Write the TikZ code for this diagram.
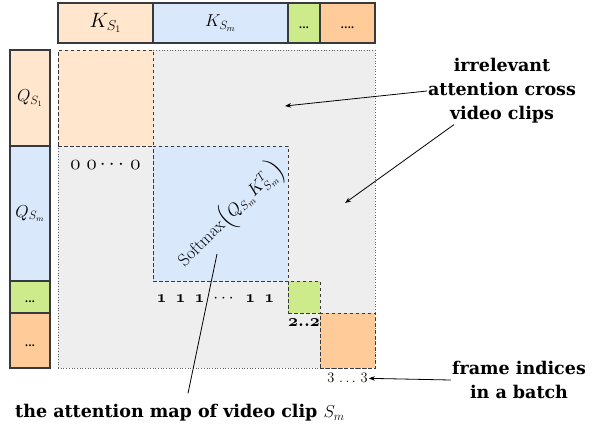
\documentclass[tikz,border=0pt]{standalone}
\usepackage{amsmath}
\usepackage{fontspec}
\usetikzlibrary{arrows.meta,positioning,calc}
\newfontfamily\notefont{DejaVu Serif}
\definecolor{PeachLight}{HTML}{FFE6CC}
\definecolor{SkyLight}{HTML}{DAE8FC}
\definecolor{LimeMid}{HTML}{CDEB8B}
\definecolor{PeachMid}{HTML}{FFCC99}
\definecolor{MapGray}{HTML}{EEEEEE}
\definecolor{EdgeDark}{HTML}{36393D}
\newcommand{\lowdots}[1]{\smash{\raisebox{-5.5pt}{#1}}}
% old-style figures taken from the math italic font
\newcommand{\osd}[1]{{\fontencoding{OML}\fontfamily{cmm}\fontseries{m}\fontshape{it}\selectfont #1}}
\newcommand{\osdb}[1]{{\fontencoding{OML}\fontfamily{cmm}\fontseries{b}\fontshape{it}\selectfont #1}}

\begin{document}
\begin{tikzpicture}[x=1pt,y=-1pt,
    token/.style={draw=EdgeDark,line width=1.1pt,inner sep=0pt},
    clipblock/.style={draw=EdgeDark,line width=1pt,dash pattern=on 3.5pt off 2.5pt,inner sep=0pt},
    note/.style={font=\notefont\bfseries\fontsize{17.5}{24}\selectfont,align=center,inner sep=1pt},
    dotfont/.style={font=\notefont\bfseries\fontsize{10}{12}\selectfont},
    idx/.style={inner sep=1pt},
    pointer/.style={-{Stealth[length=6pt,width=4.5pt]},line width=0.8pt}
  ]
  \useasboundingbox (0,0) rectangle (594,432);

  % key tokens along the top
  \node[token,fill=PeachLight,minimum width=95pt,minimum height=40pt] (ks1) at (105.5,23)
    {\fontsize{20}{22}\selectfont$K_{S_1}$};
  \node[token,fill=SkyLight,minimum width=135pt,minimum height=40pt] (ksm) at (220.5,23)
    {\fontsize{18}{20}\selectfont$K_{S_m}$};
  \node[token,dotfont,fill=LimeMid,minimum width=32pt,minimum height=40pt] (ksg) at (304,23) {\lowdots{...}};
  \node[token,dotfont,fill=PeachMid,minimum width=55pt,minimum height=40pt] (kso) at (347.5,23) {\lowdots{....}};

  % query tokens down the left
  \node[token,fill=PeachLight,minimum width=40pt,minimum height=96pt] (qs1) at (30,98)
    {\fontsize{17}{19}\selectfont$Q_{S_1}$};
  \node[token,fill=SkyLight,minimum width=40pt,minimum height=135pt] (qsm) at (30,213.5)
    {\fontsize{17}{19}\selectfont$Q_{S_m}$};
  \node[token,dotfont,fill=LimeMid,minimum width=40pt,minimum height=32pt] (qsg) at (30,297) {\lowdots{...}};
  \node[token,dotfont,fill=PeachMid,minimum width=40pt,minimum height=55pt] (qso) at (30,340.5) {\lowdots{...}};

  % attention map with the per-clip blocks
  \node[fill=MapGray,draw=EdgeDark!80,dotted,line width=0.7pt,inner sep=0pt,
        minimum width=317pt,minimum height=318pt] (map) at (216.5,209) {};
  \node[clipblock,fill=PeachLight,minimum width=95pt,minimum height=96pt] (b1) at (105.5,98) {};
  \node[clipblock,fill=SkyLight,minimum width=135pt,minimum height=135pt] (bm) at (220.5,213.5) {};
  \node[clipblock,fill=LimeMid,minimum width=32pt,minimum height=32pt] (bg) at (304,297) {};
  \node[clipblock,fill=PeachMid,minimum width=55pt,minimum height=55pt] (bo) at (347.5,340.5) {};

  \node[rotate=45,font=\fontsize{17.5}{19}\selectfont] (sm) at (231,215)
    {$\mathrm{Softmax}\Bigl(Q_{S_m}K^{T}_{S_m}\Bigr)$};

  % frame indices under each block
  \node[idx,below=13pt of b1,font=\fontsize{21}{22}\selectfont] (zeros)
    {\osd{0}\hspace{6pt}\osd{0}\hspace{3pt}$\cdots$\hspace{3pt}\osd{0}};
  \node[idx,below=12pt of bm,xshift=-5pt,font=\fontsize{19}{20}\selectfont] (ones)
    {\osdb{1}\hspace{9pt}\osdb{1}\hspace{9pt}\osdb{1}\hspace{9pt}$\cdots$\hspace{9pt}\osdb{1}\hspace{9pt}\osdb{1}};
  \node[idx,below=4pt of bg,font=\fontsize{19}{20}\selectfont] (twos)
    {\osdb{2}\textbf{..}\osdb{2}};
  \node[idx,below=4pt of bo,font=\fontsize{15}{17}\selectfont] (three)
    {$3\,\ldots\,3$};

  % annotations
  \coordinate (hitA) at (285,106);
  \coordinate (hitB) at (345,203);
  \coordinate (inmap) at (217,254);
  \node[note] (irr) at (502,91) {irrelevant\\attention cross\\video clips};
  \draw[pointer] (irr.west) -- (hitA);
  \draw[pointer] ([xshift=27pt]irr.south west) -- (hitB);

  \node[note] (frm) at (519,380) {frame indices\\in a batch};
  \draw[pointer] (frm.west) -- (three.east);

  \node[note] (cap) at (180,413) {the attention map of video clip $S_m$};
  \draw[line width=0.8pt] ([xshift=8pt,yshift=10pt]cap.north) -- (inmap);
\end{tikzpicture}
\end{document}
